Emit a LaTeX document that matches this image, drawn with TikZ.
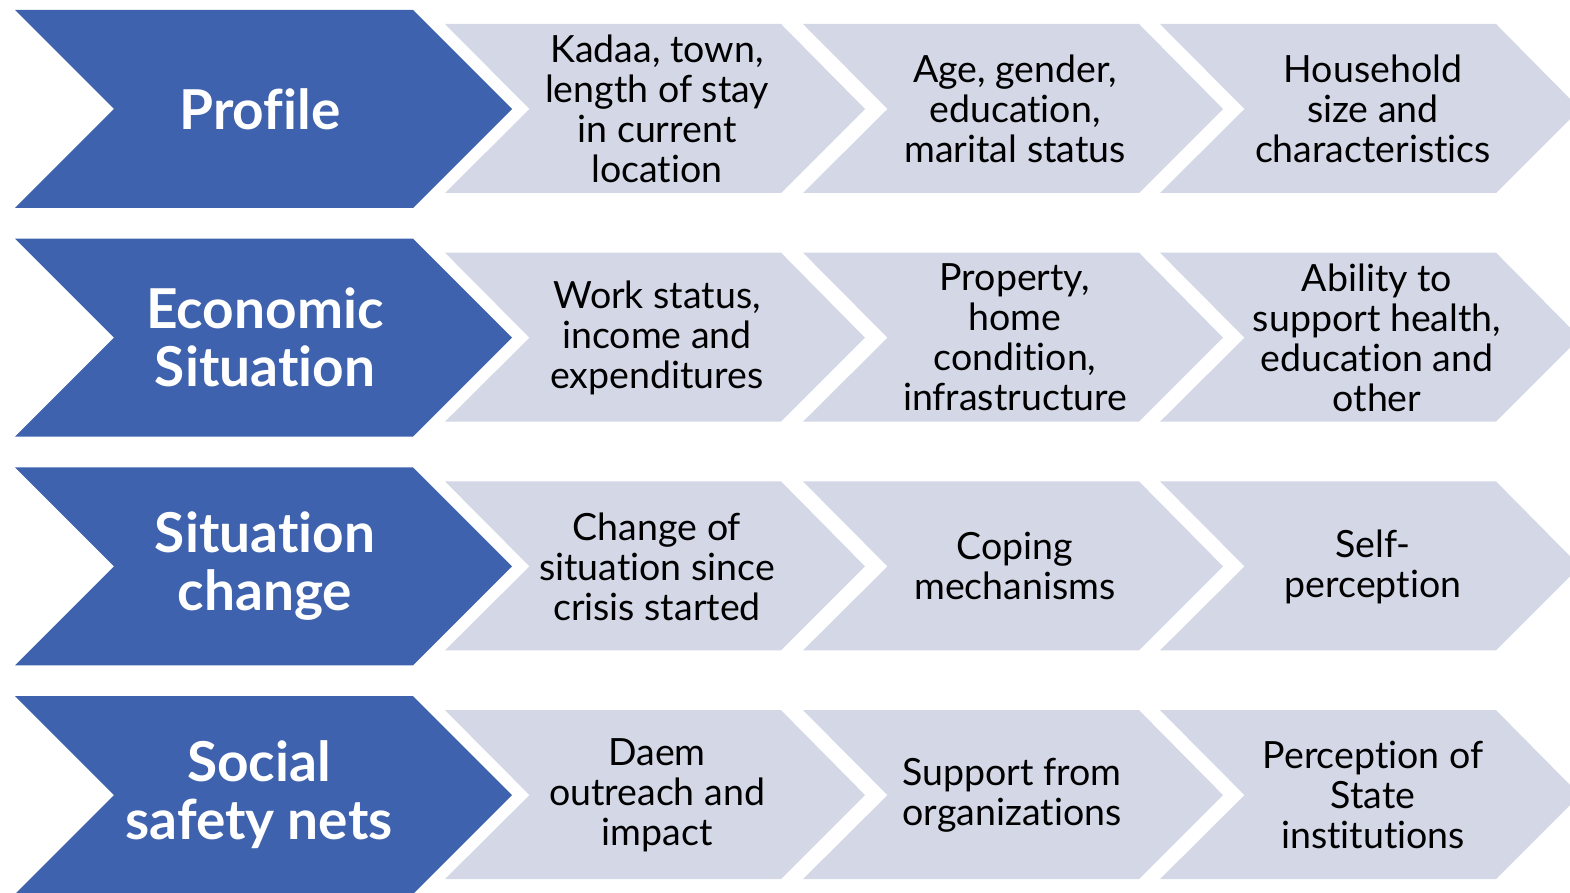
\documentclass[tikz,border=0pt]{standalone}
\usepackage{fontspec}
\setmainfont{Lato}[Ligatures=NoCommon]
\usepackage{xcolor}
\usepackage{tikz}
\usetikzlibrary{positioning, calc}

\definecolor{headblue}{RGB}{62,98,173}
\definecolor{itemgrey}{RGB}{211,215,230}

\tikzset{
    headchev/.style={fill=headblue},
    itemchev/.style={fill=itemgrey},
    headtxt/.style={text=white, align=center, inner sep=0pt, font=\bfseries\fontsize{55}{58}\selectfont},
    itemtxt/.style={text=black, align=center, inner sep=0pt, font=\fontsize{37.5}{40}\selectfont}
}

\begin{document}
\begin{tikzpicture}[x=1pt, y=-1pt]
        \useasboundingbox (0,0) rectangle (1570,893);

        % chevrons, one row at a time
        \foreach \r in {0,1,2,3} {
            \pgfmathsetmacro{\t}{10+228.7*\r}
            \fill[headchev] (15,\t) -- (413,\t) -- (512,\t+99) -- (413,\t+198) -- (15,\t+198) -- (114,\t+99) -- cycle;
            \foreach \l in {445,803,1160} {
                \fill[itemchev] (\l,\t+14) -- (\l+336,\t+14) -- (\l+420,\t+99) -- (\l+336,\t+183) -- (\l,\t+183) -- (\l+84.5,\t+99) -- cycle;
            }
        }

        % row headings
        \node[headtxt] (profile) at (260,109) {Profile};
        \node[headtxt] (economic) at (265,337.7) {Economic\\Situation};
        \node[headtxt] (change) at (265,566.4) {Situation\\change};
        \node[headtxt] (safety) at (259,795.1) {Social\\safety nets};

        % row items
        \node[itemtxt] (kadaa) at (657,109) {Kadaa, town,\\length of stay\\in current\\location};
        \node[itemtxt] (age) at (1015,109) {Age, gender,\\education,\\marital status};
        \node[itemtxt] (household) at (1373,109) {Household\\size and\\characteristics};

        \node[itemtxt] (work) at (657,337.7) {Work status,\\income and\\expenditures};
        \node[itemtxt] (property) at (1015,337.7) {Property,\\home\\condition,\\infrastructure};
        \node[itemtxt] (ability) at (1377,337.7) {Ability to\\support health,\\education and\\other};

        \node[itemtxt] (since) at (657,566.4) {Change of\\situation since\\crisis started};
        \node[itemtxt] (coping) at (1015,566.4) {Coping\\mechanisms};
        \node[itemtxt] (self) at (1373,567.4) {Self-\\perception};

        \node[itemtxt] (daem) at (657,795.1) {Daem\\outreach and\\impact};
        \node[itemtxt] (support) at (1012,795.1) {Support from\\organizations};
        \node[itemtxt] (state) at (1373,795.1) {Perception of\\State\\institutions};
\end{tikzpicture}
\end{document}
